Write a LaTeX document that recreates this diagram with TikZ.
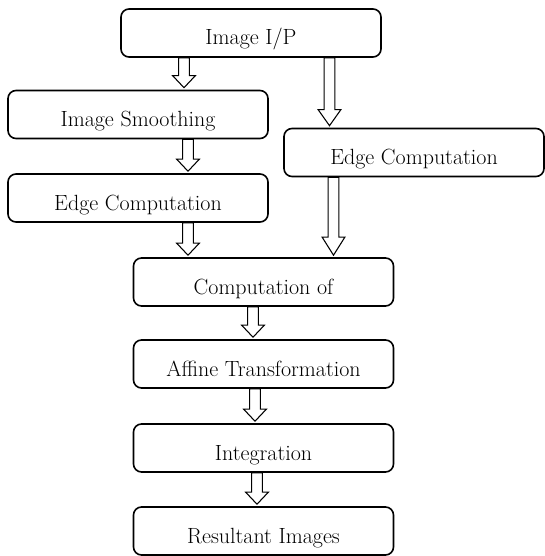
\documentclass[tikz,border=0pt]{standalone}
\usetikzlibrary{calc}

% hollow block arrow: x of shaft (px), from node, to node, head length (px)
\newcommand{\hollowarrow}[4]{%
\draw[blockarrow] let \p1=(#2.south), \p2=(#3.north) in
  ({#1*0.75pt-4pt},\y1) -- ({#1*0.75pt-4pt},{\y2+1.5pt+#4*0.75pt})
  -- ({#1*0.75pt-8.5pt},{\y2+1.5pt+#4*0.75pt}) -- ({#1*0.75pt},{\y2+1.5pt})
  -- ({#1*0.75pt+8.5pt},{\y2+1.5pt+#4*0.75pt}) -- ({#1*0.75pt+4pt},{\y2+1.5pt+#4*0.75pt})
  -- ({#1*0.75pt+4pt},\y1) -- cycle;}

\begin{document}
\begin{tikzpicture}[x=0.75pt, y=-0.75pt,
  stage/.style={draw, line width=1.2pt, rounded corners=6pt,
    minimum width=195pt, minimum height=36pt,
    text height=18pt, text depth=0pt,
    font=\fontsize{16.5}{19}\selectfont},
  blockarrow/.style={draw, line width=0.8pt, line join=miter}]
\useasboundingbox (0,0) rectangle (544,556);

\node[stage] (img) at (251,33) {Image I/P};
\node[stage] (smooth) at (138,114.5) {Image Smoothing};
\node[stage] (edgeR) at (414,152.5) {Edge Computation};
\node[stage] (edgeL) at (138,198) {Edge Computation};
\node[stage] (comp) at (263.5,282) {Computation of};
\node[stage] (affine) at (263.5,364) {Affine Transformation};
\node[stage] (integ) at (263.5,448) {Integration};
\node[stage] (result) at (263.5,531) {Resultant Images};

\hollowarrow{184}{img}{smooth}{12}
\hollowarrow{329.5}{img}{edgeR}{16}
\hollowarrow{188}{smooth}{edgeL}{12}
\hollowarrow{188}{edgeL}{comp}{12}
\hollowarrow{333.5}{edgeR}{comp}{18}
\hollowarrow{253}{comp}{affine}{12}
\hollowarrow{255}{affine}{integ}{12}
\hollowarrow{257}{integ}{result}{12}
\end{tikzpicture}
\end{document}
